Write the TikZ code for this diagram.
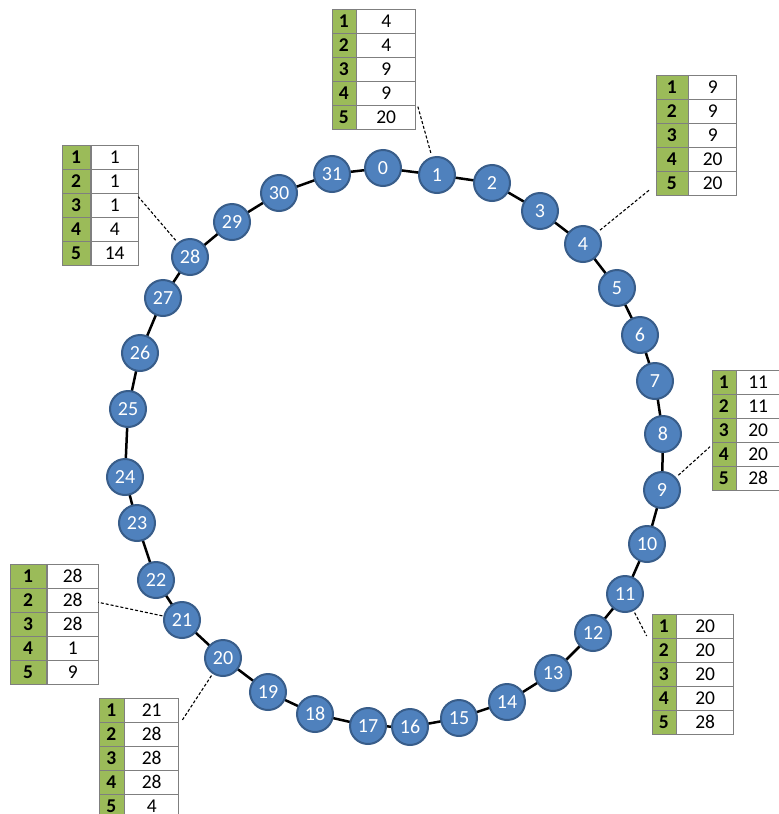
\documentclass[tikz,border=0pt]{standalone}
\usepackage{fontspec}
\setmainfont{Carlito}
\definecolor{nodeblue}{HTML}{4F81BD}
\definecolor{nodeedge}{HTML}{385D8A}
\definecolor{keygreen}{HTML}{9BBB59}
\definecolor{cellline}{HTML}{7F7F7F}
\tikzset{
  ringnode/.style={circle, fill=nodeblue, draw=nodeedge, line width=2pt, minimum size=36pt, inner sep=0pt, text=white, font=\fontsize{20}{20}\selectfont},
  ringline/.style={line width=2.5pt, black},
  keycell/.style={rectangle, fill=keygreen, draw=cellline, line width=0.8pt, minimum height=24pt, inner sep=0pt, font=\fontsize{19.5}{19.5}\selectfont\bfseries},
  valcell/.style={rectangle, fill=white, draw=cellline, line width=0.8pt, minimum height=24pt, inner sep=0pt, font=\fontsize{19.5}{19.5}\selectfont},
  pointer/.style={dashed, dash pattern=on 3pt off 2pt, line width=1.1pt, black}
}
\newcommand{\ftab}[6]{%
  \foreach \v [count=\i] in {#6} {
    \node[keycell, minimum width=#4pt, anchor=north west] (#1k\i) at (#2, {#3 + (\i-1)*24}) {\i};
    \node[valcell, minimum width=#5pt, anchor=west] (#1v\i) at (#1k\i.east) {\v};
  }%
}
\begin{document}
\begin{tikzpicture}[x=1pt, y=-1pt]
\useasboundingbox (0,0) rectangle (779,814);
\clip (0,0) rectangle (779,814);
% ring nodes
\foreach \n/\x/\y in {0/383/168, 1/437/175, 2/492/183, 3/540/211, 4/583/244, 5/617/288,
  6/640/335, 7/655/381, 8/663/434, 9/662/490, 10/647/544, 11/625/594, 12/593/633,
  13/553/673, 14/507/702, 15/459/718, 16/410/727, 17/368/726, 18/315/714, 19/268/692,
  20/223/658, 21/182/620, 22/156/580, 23/137/523, 24/125/477, 25/128/409, 26/140/353,
  27/163/298, 28/190/257, 29/232/222, 30/279/193, 31/332/174}
  { \coordinate (p\n) at (\x,\y); }
% ring connectors (drawn first, nodes on top)
\foreach \a/\b in {0/1,1/2,2/3,3/4,4/5,5/6,6/7,7/8,8/9,9/10,10/11,11/12,12/13,13/14,14/15,15/16,
  16/17,17/18,18/19,19/20,20/21,21/22,22/23,23/24,24/25,25/26,26/27,27/28,28/29,29/30,30/31,31/0}
  { \draw[ringline] (p\a) -- (p\b); }
\foreach \n in {0,...,31} { \node[ringnode] (n\n) at (p\n) {\n}; }
% finger tables
\ftab{ta}{331.5}{8.5}{24}{59}{4,4,9,9,20}
\ftab{tb}{655.5}{75}{32}{48}{9,9,9,20,20}
\ftab{tc}{61.5}{145}{28.5}{47}{1,1,1,4,14}
\ftab{td}{711.5}{369.5}{24}{43}{11,11,20,20,28}
\ftab{te}{651.5}{613.5}{24}{57}{20,20,20,20,28}
\ftab{tf}{9.5}{563.5}{36.5}{51}{28,28,28,1,9}
\ftab{tg}{98.5}{698}{25}{54}{21,28,28,28,4}
% pointer endpoints
\coordinate (ea) at (417.7,106);
\coordinate (eb) at (649.3,190);
\coordinate (ec) at (138.3,196.7);
\coordinate (ed) at (710,446.7);
\coordinate (ee) at (646.7,636);
\coordinate (ef) at (98.3,602.3);
\coordinate (eg) at (181.7,721);
\draw[pointer, shorten <=4pt] (n1) -- (ea);
\draw[pointer, shorten <=3pt] (n4) -- (eb);
\draw[pointer, shorten <=3pt] (n28) -- (ec);
\draw[pointer, shorten <=3pt] (n9) -- (ed);
\draw[pointer, shorten <=2pt] (n11) -- (ee);
\draw[pointer, shorten <=1pt] (n21) -- (ef);
\draw[pointer, shorten <=2pt] (n20) -- (eg);
\end{tikzpicture}
\end{document}
